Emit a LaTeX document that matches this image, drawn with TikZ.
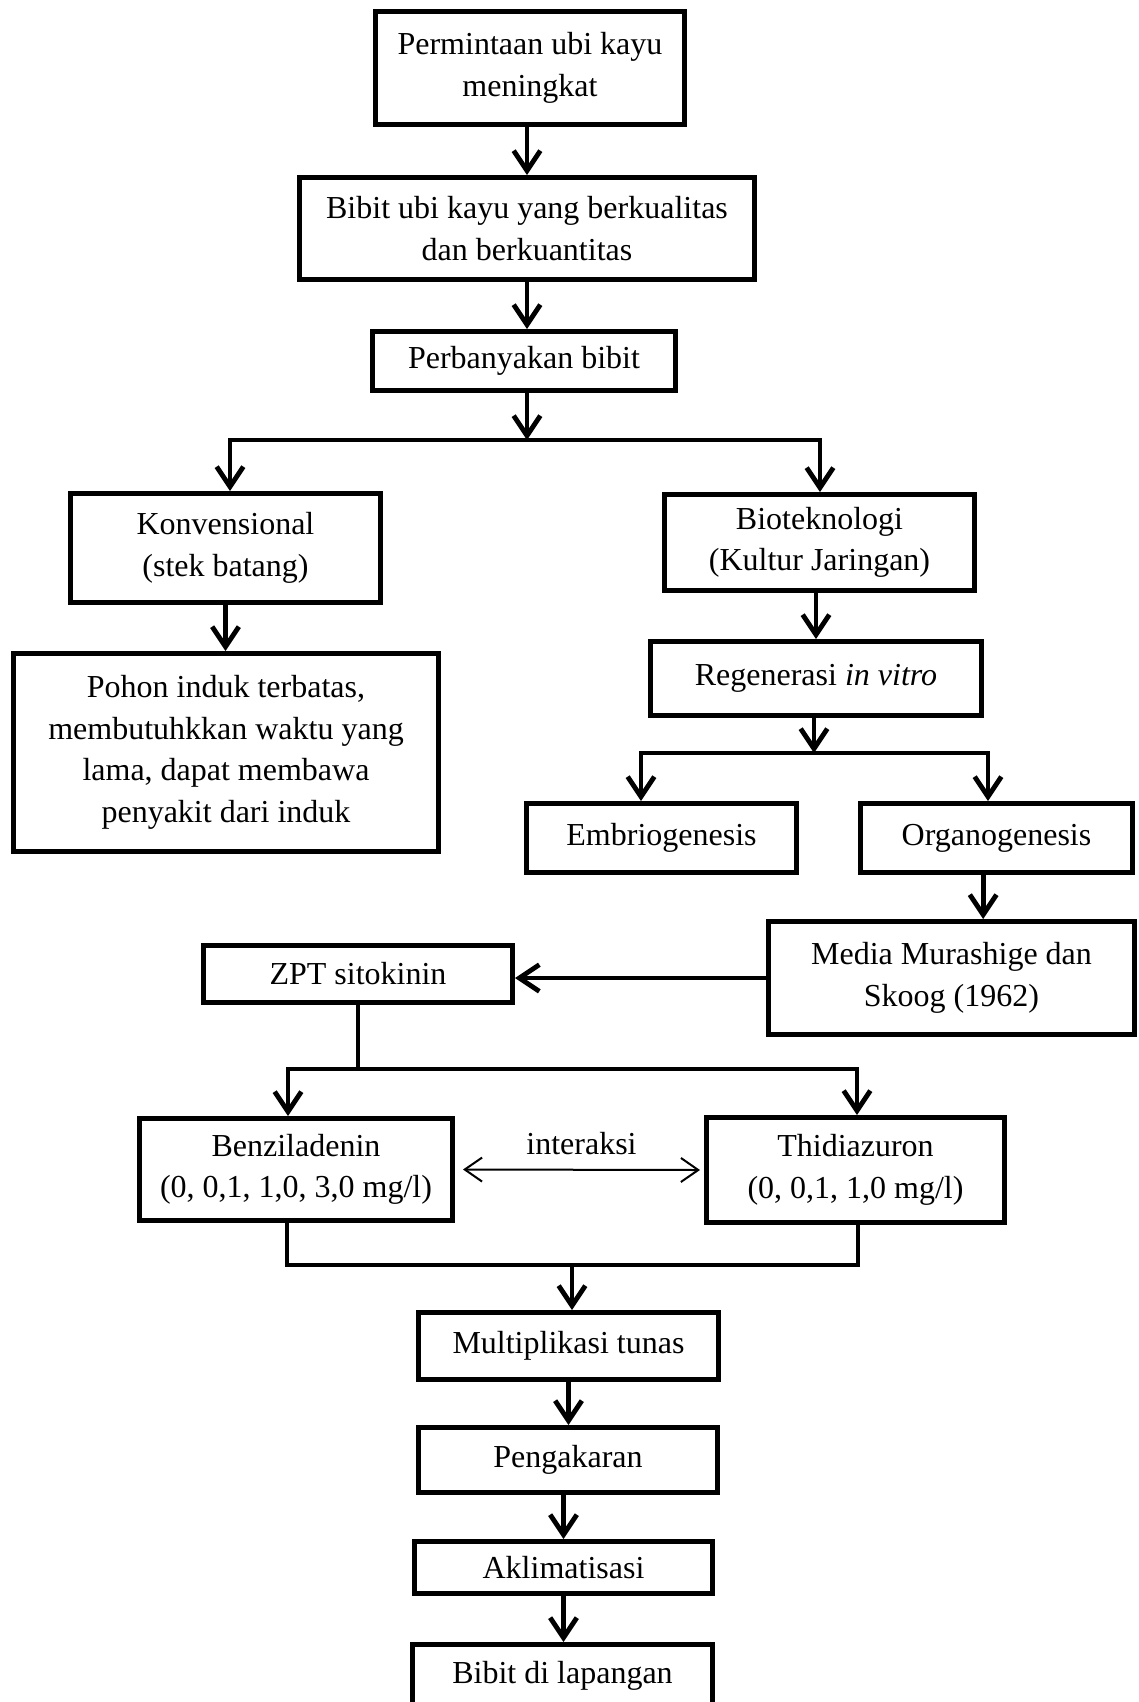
\documentclass[tikz,border=0pt]{standalone}
\usepackage{fontspec}
\setmainfont{Liberation Serif}
\usetikzlibrary{arrows.meta}

\tikzset{
  kotak/.style={draw, line width=1.7pt, align=center, inner sep=0pt,
    font=\fontsize{12}{15.6}\selectfont},
  ukuran/.style 2 args={minimum width={#1*0.375pt-1.7pt}, minimum height={#2*0.375pt-1.7pt}},
  garis/.style={line width=1.8pt},
  panah/.style={line width=1.8pt, -{Straight Barb[length=7.5pt,width=10pt]}},
  tipis/.style={line width=0.75pt, {Straight Barb[length=6.5pt,width=9pt]}-{Straight Barb[length=6.5pt,width=9pt]}}
}

\begin{document}
\begin{tikzpicture}[x=0.375pt,y=-0.375pt]
        \useasboundingbox (0,0) rectangle (1138,1702);
        \node[kotak,ukuran={314}{118}] (minta) at (530,68) {Permintaan ubi kayu\\meningkat};
        \node[kotak,ukuran={460}{107}] (bibit) at (527,228.5) {Bibit ubi kayu yang berkualitas\\dan berkuantitas};
        \node[kotak,ukuran={308}{64}] (perbanyakan) at (524,361) {Perbanyakan bibit};
        \node[kotak,ukuran={315}{114}] (konv) at (225.5,548) {Konvensional\\(stek batang)};
        \node[kotak,ukuran={315}{101}] (biotek) at (819.5,542.5) {Bioteknologi\\(Kultur Jaringan)};
        \node[kotak,ukuran={430}{203}] (pohon) at (226,752.5) {Pohon induk terbatas,\\membutuhkkan waktu yang\\lama, dapat membawa\\penyakit dari induk};
        \node[kotak,ukuran={336}{79}] (regen) at (816,678.5) {Regenerasi \textit{in vitro}};
        \node[kotak,ukuran={275}{74}] (embrio) at (661.5,838) {Embriogenesis};
        \node[kotak,ukuran={277}{74}] (organo) at (996.5,838) {Organogenesis};
        \node[kotak,ukuran={371}{118}] (media) at (951.5,978) {Media Murashige dan\\Skoog (1962)};
        \node[kotak,ukuran={314}{62}] (zpt) at (358,974) {ZPT sitokinin};
        \node[kotak,ukuran={318}{107}] (ba) at (296,1169.5) {Benziladenin\\(0, 0,1, 1,0, 3,0 mg/l)};
        \node[kotak,ukuran={303}{110}] (tdz) at (855.5,1170) {Thidiazuron\\(0, 0,1, 1,0 mg/l)};
        \node[kotak,ukuran={305}{72}] (multi) at (568.5,1346) {Multiplikasi tunas};
        \node[kotak,ukuran={304}{70}] (akar) at (568,1460) {Pengakaran};
        \node[kotak,ukuran={303}{57}] (aklim) at (563.5,1567.5) {Aklimatisasi};
        \node[kotak,ukuran={305}{68}] (lapangan) at (562.5,1676) {Bibit di lapangan};

        \coordinate (c1) at (527,440);
        \coordinate (c1kiri) at (230,440);
        \coordinate (c1kanan) at (820,440);
        \coordinate (c2) at (814,753);
        \coordinate (c2kiri) at (641,753);
        \coordinate (c2kanan) at (988,753);
        \coordinate (c3) at (358,1069);
        \coordinate (c3kiri) at (288,1069);
        \coordinate (c3kanan) at (857,1069);
        \coordinate (c4) at (572,1265);
        \coordinate (c4kiri) at (287,1265);
        \coordinate (c4kanan) at (858,1265);

        \draw[panah] (bibit.north |- minta.south) -- (bibit.north);
        \draw[panah] (bibit.south) -- (bibit.south |- perbanyakan.north);
        \draw[panah] (perbanyakan.south -| c1) -- (c1);
        \draw[panah] (c1) -- (c1kiri) -- (konv.north -| c1kiri);
        \draw[panah] (c1) -- (c1kanan) -- (biotek.north -| c1kanan);
        \draw[panah] (konv.south) -- (konv.south |- pohon.north);
        \draw[panah] (regen.north |- biotek.south) -- (regen.north);
        \draw[panah] (regen.south -| c2) -- (c2);
        \draw[panah] (c2) -- (c2kiri) -- (embrio.north -| c2kiri);
        \draw[panah] (c2) -- (c2kanan) -- (organo.north -| c2kanan);
        \draw[panah] ([xshift=-5pt]organo.south) -- ([xshift=-5pt]organo.south |- media.north);
        \draw[panah] (media.west) -- (media.west -| zpt.east);
        \draw[garis] (zpt.south) -- (c3);
        \draw[panah] (c3) -- (c3kiri) -- (ba.north -| c3kiri);
        \draw[panah] (c3) -- (c3kanan) -- (tdz.north -| c3kanan);
        \draw[tipis] ([xshift=3pt]ba.east) -- ([xshift=-1.5pt]tdz.west)
          node[midway,above=2pt,font=\fontsize{12}{15.6}\selectfont] (interaksi) {interaksi};
        \draw[garis] (ba.south -| c4kiri) -- (c4kiri) -- (c4kanan) -- (tdz.south -| c4kanan);
        \draw[panah] (c4) -- (c4 |- multi.north);
        \draw[panah] (multi.south) -- (multi.south |- akar.north);
        \draw[panah] (aklim.north |- akar.south) -- (aklim.north);
        \draw[panah] (aklim.south) -- (aklim.south |- lapangan.north);
    \end{tikzpicture}
\end{document}
